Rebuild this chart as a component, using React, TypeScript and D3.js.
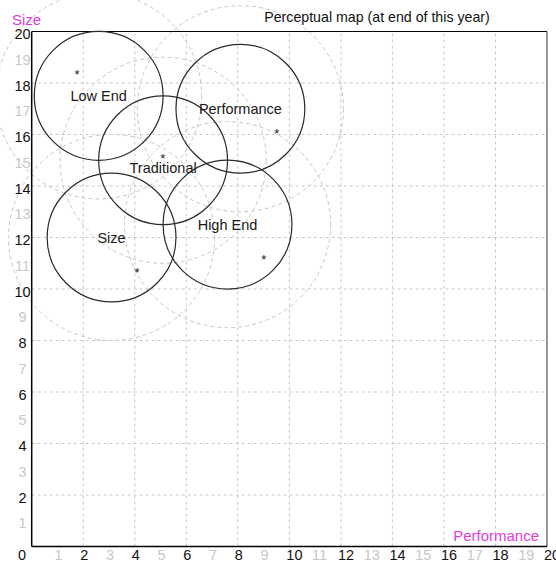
import React from 'react';
import * as d3 from 'd3';

// segment ideal circles (fine cut 2.5, rough cut 4)
const segments = ['Low End', 'Performance', 'Traditional', 'Size', 'High End'];
const segPerformance = [2.6, 8.1, 5.1, 3.1, 7.6];
const segSize = [17.5, 17.0, 15.0, 12.0, 12.5];
const fineCut = 2.5;
const roughCut = 4;

// products (asterisks)
const prodPerformance = [1.76, 9.51, 5.09, 4.09, 9.01];
const prodSize = [18.43, 16.14, 15.17, 10.74, 11.24];

const ticks = d3.range(0, 21);

const width = 556;
const height = 563;
const font = 'Liberation Sans, Arial, sans-serif';
const magenta = '#e03ce0';

const App = () => {
  const x = d3.scaleLinear().domain([0, 20]).range([31.7, 547]);
  const y = d3.scaleLinear().domain([0, 20]).range([546.5, 31.5]);
  const rpx = (v: number) => x(v) - x(0);

  const stars = prodPerformance.map((p, i) => ({ cx: x(p), cy: y(prodSize[i]) }));

  return (
    <svg
      width={width}
      height={height}
      style={{ position: 'absolute', left: 0, top: 0, background: '#fff' }}
      fontFamily={font}
    >
      {/* grid */}
      <g stroke="#c8c8c8" strokeDasharray="3,3" strokeWidth={1}>
        {ticks
          .filter(t => t % 2 === 0 && t > 0 && t < 20)
          .map(t => (
            <g key={t}>
              <line x1={x(t)} x2={x(t)} y1={y(0)} y2={y(20)} />
              <line x1={x(0)} x2={x(20)} y1={y(t)} y2={y(t)} />
            </g>
          ))}
      </g>

      {/* rough cut circles */}
      <g fill="none" stroke="#c8c8c8" strokeDasharray="4,3" strokeWidth={1}>
        {segments.map((s, i) => (
          <circle key={s} cx={x(segPerformance[i])} cy={y(segSize[i])} r={rpx(roughCut)} />
        ))}
      </g>

      {/* box */}
      <line x1={x(0)} x2={x(20)} y1={y(20)} y2={y(20)} stroke="#000" strokeWidth={1.2} />
      <line x1={x(20)} x2={x(20)} y1={y(20)} y2={y(0)} stroke="#333" strokeWidth={1} />
      <line x1={x(0)} x2={x(20)} y1={y(0)} y2={y(0)} stroke="#000" strokeWidth={1.5} />
      <line x1={x(0)} x2={x(0)} y1={y(20)} y2={y(0)} stroke="#000" strokeWidth={1.5} />

      {/* fine cut circles */}
      <g fill="none" stroke="#2a2a2a" strokeWidth={1.2}>
        {segments.map((s, i) => (
          <circle key={s} cx={x(segPerformance[i])} cy={y(segSize[i])} r={rpx(fineCut)} />
        ))}
      </g>

      {/* segment labels */}
      <g fontSize={14.5} fill="#1a1a1a" textAnchor="middle">
        {segments.map((s, i) => {
          const cx = x(segPerformance[i]);
          const cy = y(segSize[i]);
          const clash = stars.some(st => Math.hypot(st.cx - cx, st.cy - cy) < 12);
          return (
            <text key={s} x={cx} y={cy + (clash ? 8 : 0)} dy="0.36em">
              {s}
            </text>
          );
        })}
      </g>

      {/* products */}
      <g fontSize={13} fill="#222" textAnchor="middle">
        {stars.map((st, i) => (
          <text key={i} x={st.cx} y={st.cy} dy="0.57em">
            *
          </text>
        ))}
      </g>

      {/* x tick labels */}
      <g fontSize={14.5}>
        {ticks.map(t => (
          <text
            key={t}
            x={t === 0 ? 22 : x(t) - 3}
            y={559.5}
            textAnchor={t === 0 ? 'middle' : 'start'}
            fill={t % 2 === 0 ? '#111' : '#c8c8c8'}
          >
            {t}
          </text>
        ))}
      </g>

      {/* y tick labels */}
      <g fontSize={14.5} textAnchor="middle">
        {ticks
          .filter(t => t > 0)
          .map(t => (
            <text key={t} x={22.5} y={y(t) + 7.5} fill={t % 2 === 0 ? '#111' : '#c8c8c8'}>
              {t}
            </text>
          ))}
      </g>

      {/* axis titles */}
      <text x={12} y={25} fontSize={15} fill={magenta}>
        Size
      </text>
      <text x={539} y={541} fontSize={15} fill={magenta} textAnchor="end">
        Performance
      </text>

      <text x={377} y={22} fontSize={14.2} fill="#111" textAnchor="middle">
        Perceptual map (at end of this year)
      </text>
    </svg>
  );
};

export default App;
